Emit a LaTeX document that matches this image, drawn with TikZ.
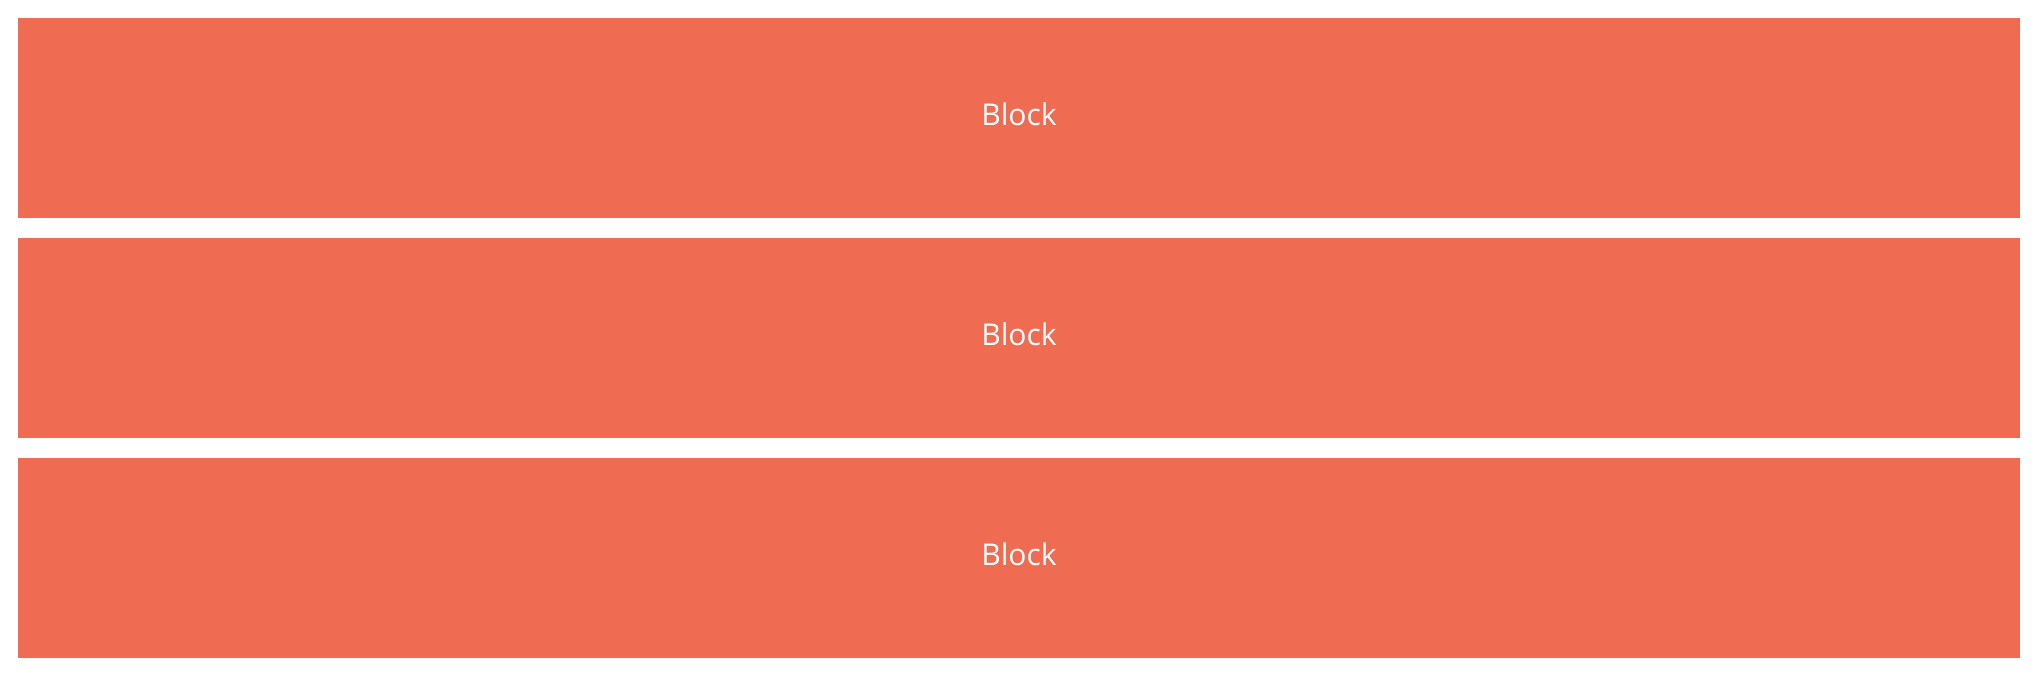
\documentclass[tikz,border=0pt]{standalone}
\usepackage{fontspec}
\setmainfont{Open Sans}
\usetikzlibrary{positioning}
\definecolor{blockred}{RGB}{239,108,83}

\begin{document}
\begin{tikzpicture}[
  x=1pt,y=1pt,
  every node/.style={font=\fontsize{30}{36}\selectfont},
  blk/.style={fill=blockred,text=white,minimum width=2002pt,minimum height=200pt,
    inner sep=0pt,outer sep=0pt,text depth=8pt}
]
  % Canvas kept at the reference size (margins included)
  \useasboundingbox (0,0) rectangle (2036,678);

  % Stack of blocks, top to bottom
  \node[blk] (B1) at (1019,560) {Block};
  \node[blk,below=20pt of B1] (B2) {Block};
  \node[blk,below=20pt of B2] (B3) {Block};
\end{tikzpicture}
\end{document}
